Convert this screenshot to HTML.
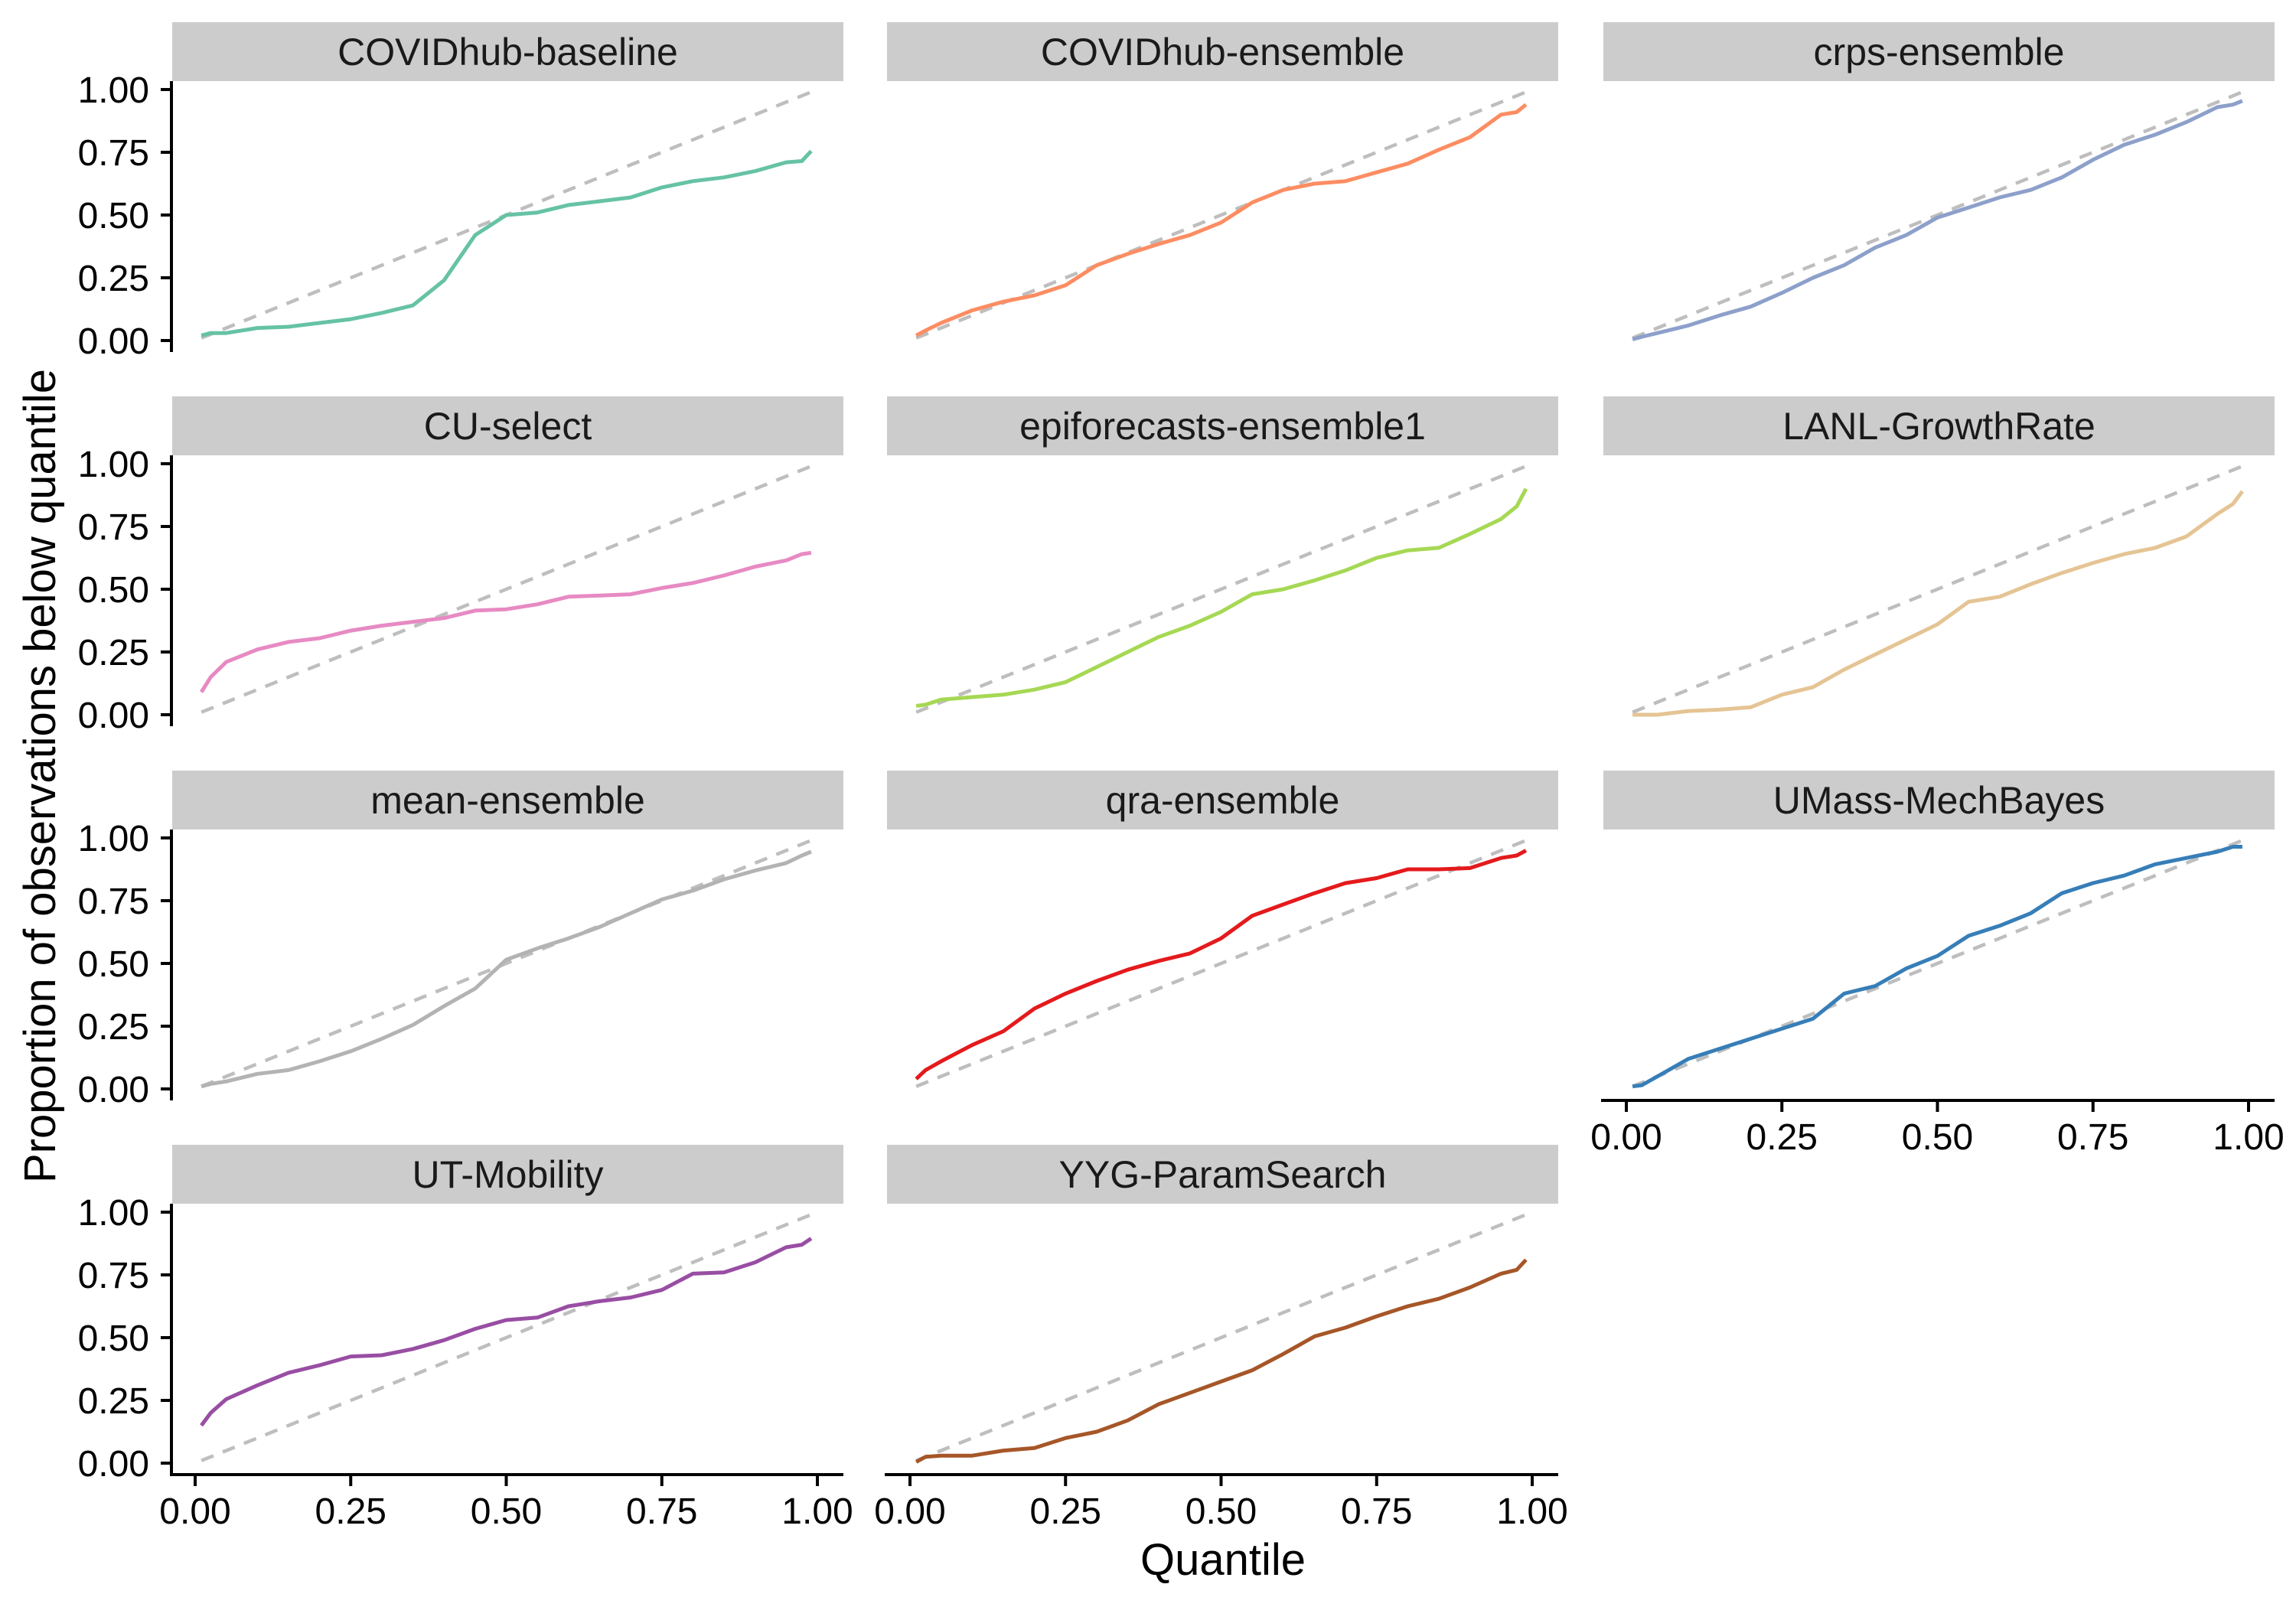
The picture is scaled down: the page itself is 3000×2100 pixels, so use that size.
<!DOCTYPE html>
<html><head><meta charset="utf-8"><style>
html,body{margin:0;padding:0;background:#fff}
svg{display:block;font-family:"Liberation Sans",Arial,sans-serif}
</style></head><body>
<svg id="chart" width="3000" height="2100" viewBox="0 0 3000 2100">
<text x="0" y="0" transform="translate(72,1014) rotate(-90)" text-anchor="middle" font-size="58">Proportion of observations below quantile</text>
<text x="1598" y="2058" text-anchor="middle" font-size="58">Quantile</text>
</svg>
<script>
const quantiles = [0.01,0.025,0.05,0.1,0.15,0.2,0.25,0.3,0.35,0.4,0.45,0.5,0.55,0.6,0.65,0.7,0.75,0.8,0.85,0.9,0.95,0.975,0.99];
const models = ["COVIDhub-baseline","COVIDhub-ensemble","crps-ensemble","CU-select","epiforecasts-ensemble1","LANL-GrowthRate","mean-ensemble","qra-ensemble","UMass-MechBayes","UT-Mobility","YYG-ParamSearch"];
const colors = ["#66C2A5","#FC8D62","#8DA0CB","#E78AC3","#A6D854","#E5C494","#B3B3B3","#E41A1C","#377EB8","#984EA3","#A65628"];
const valsBaseline = [0.02,0.03,0.03,0.05,0.055,0.07,0.085,0.11,0.14,0.24,0.42,0.5,0.51,0.54,0.555,0.57,0.61,0.635,0.65,0.675,0.71,0.715,0.755];
const valsHubEns = [0.02,0.04,0.07,0.12,0.155,0.18,0.22,0.3,0.345,0.385,0.42,0.47,0.55,0.6,0.625,0.635,0.67,0.705,0.76,0.81,0.9,0.91,0.94];
const valsCrps = [0.005,0.015,0.03,0.06,0.1,0.135,0.19,0.25,0.3,0.37,0.42,0.49,0.53,0.57,0.6,0.65,0.72,0.78,0.82,0.87,0.93,0.94,0.955];
const valsCU = [0.09,0.15,0.21,0.26,0.29,0.305,0.335,0.355,0.37,0.385,0.415,0.42,0.44,0.47,0.475,0.48,0.505,0.525,0.555,0.59,0.615,0.64,0.645];
const valsEpi = [0.035,0.04,0.06,0.07,0.08,0.1,0.13,0.19,0.25,0.31,0.355,0.41,0.48,0.5,0.535,0.575,0.625,0.655,0.665,0.72,0.78,0.83,0.9];
const valsLANL = [0.0,0.0,0.0,0.015,0.02,0.03,0.08,0.11,0.18,0.24,0.3,0.36,0.45,0.47,0.52,0.565,0.605,0.64,0.665,0.71,0.8,0.84,0.89];
const valsMean = [0.01,0.02,0.03,0.06,0.075,0.11,0.15,0.2,0.255,0.33,0.4,0.515,0.56,0.6,0.645,0.7,0.755,0.79,0.835,0.87,0.9,0.93,0.945];
const valsQra = [0.04,0.075,0.11,0.175,0.23,0.32,0.38,0.43,0.475,0.51,0.54,0.6,0.69,0.735,0.78,0.82,0.84,0.875,0.875,0.88,0.92,0.93,0.95];
const valsUMass = [0.01,0.015,0.05,0.12,0.16,0.2,0.24,0.28,0.38,0.41,0.48,0.53,0.61,0.65,0.7,0.78,0.82,0.85,0.895,0.92,0.945,0.965,0.965];
const valsUT = [0.15,0.2,0.255,0.31,0.36,0.39,0.425,0.43,0.455,0.49,0.535,0.57,0.58,0.625,0.645,0.66,0.69,0.755,0.76,0.8,0.86,0.87,0.895];
const valsYYG = [0.005,0.025,0.03,0.03,0.05,0.06,0.1,0.125,0.17,0.235,0.28,0.325,0.37,0.435,0.505,0.54,0.585,0.625,0.655,0.7,0.755,0.77,0.81];
const allSeries = [valsBaseline,valsHubEns,valsCrps,valsCU,valsEpi,valsLANL,valsMean,valsQra,valsUMass,valsUT,valsYYG];
const tickVals = [0,0.25,0.5,0.75,1];
const tickLabels = ["0.00","0.25","0.50","0.75","1.00"];

const NS="http://www.w3.org/2000/svg";
const svg=document.getElementById('chart');
const colL=[225,1159,2095], rowT=[29,518,1007,1496], W=877, SH=77, PH=354;
function mk(tag,attrs,parent){const e=document.createElementNS(NS,tag);for(const k in attrs)e.setAttribute(k,attrs[k]);(parent||svg).appendChild(e);return e;}
models.forEach((m,i)=>{
  const c=i%3,r=Math.floor(i/3);
  const L=colL[c], T=rowT[r]+SH;
  const X=v=>L+30+v*813;
  const Y=v=>T+11+(1-v)*328;
  const g=mk('g',{});
  
  
  const strip=mk('rect',{x:L,y:rowT[r],width:W,height:SH,fill:'#CCCCCC'},g);
  
  
  const st=mk('text',{x:L+W/2,y:rowT[r]+56,'text-anchor':'middle','font-size':50,fill:'#1a1a1a'},g);
  st.textContent=m;
  
  
  if(c===0){
    const ya=mk('line',{x1:L-1,x2:L-1,y1:T,y2:T+PH,stroke:'#000','stroke-width':4},g);
    
    
    tickVals.forEach((t,k)=>{
      mk('line',{x1:L-15,x2:L-1,y1:Y(t),y2:Y(t),stroke:'#000','stroke-width':4},g);
      const tl=mk('text',{x:L-30,y:Y(t)+17,'text-anchor':'end','font-size':48,fill:'#000'},g);
      tl.textContent=tickLabels[k];
      
      
    });
  }
  const bottom = (r===3) || (r===2 && c===2);
  if(bottom){
    const xa=mk('line',{x1:L-3,x2:L+W,y1:T+PH,y2:T+PH,stroke:'#000','stroke-width':4},g);
    
    
    tickVals.forEach((t,k)=>{
      mk('line',{x1:X(t),x2:X(t),y1:T+PH,y2:T+PH+15,stroke:'#000','stroke-width':4},g);
      const tl=mk('text',{x:X(t),y:T+PH+64,'text-anchor':'middle','font-size':48,fill:'#000'},g);
      tl.textContent=tickLabels[k];
      
      
    });
  }
  const d=mk('line',{x1:X(quantiles[0]),y1:Y(quantiles[0]),x2:X(quantiles[quantiles.length-1]),y2:Y(quantiles[quantiles.length-1]),stroke:'#BEBEBE','stroke-width':4.5,'stroke-dasharray':'17 13'},g);
  
  
  const pts=allSeries[i].map((v,k)=>X(quantiles[k]).toFixed(1)+','+Y(v).toFixed(1)).join(' ');
  const pl=mk('polyline',{points:pts,fill:'none',stroke:colors[i],'stroke-width':5,'stroke-linejoin':'round'},g);
  
  
});
</script>
</body></html>
